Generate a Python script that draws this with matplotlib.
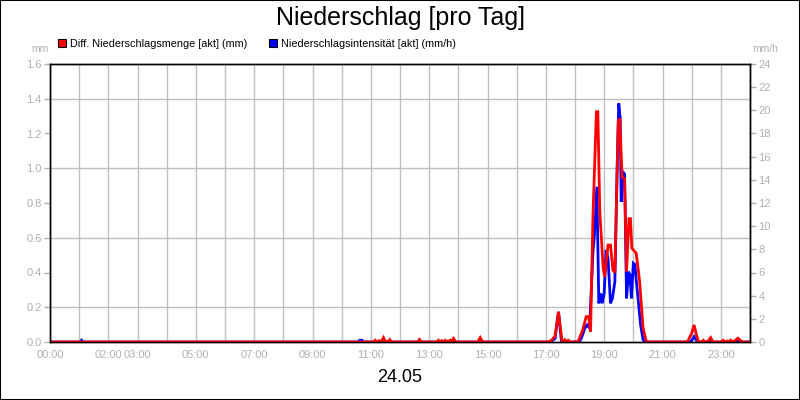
import matplotlib
matplotlib.use("Agg")
import matplotlib.pyplot as plt
from matplotlib.patches import Patch, Rectangle
from matplotlib.ticker import MultipleLocator

plt.rcParams['font.family'] = ['Liberation Sans', 'DejaVu Sans']

# ------------------------
# Data (minutes since midnight)
# ------------------------
menge_t = [0,
           666, 669, 673, 677, 681, 686, 690, 693, 696, 699, 703,
           757, 760, 764,
           796, 799, 803, 806, 810, 813, 818, 823, 826, 830, 835,
           880, 885, 890,
           1024, 1032, 1039, 1046, 1053, 1056, 1059, 1062, 1066, 1070,
           1086, 1096, 1103, 1108, 1112, 1117, 1124, 1127, 1131, 1138, 1141,
           1148, 1153, 1158, 1162, 1169, 1172, 1177, 1182, 1186, 1191, 1194,
           1197, 1206, 1213, 1220, 1227,
           1309, 1313, 1320, 1325, 1329, 1334,
           1340, 1344, 1348, 1354, 1359, 1364,
           1381, 1385, 1389, 1393, 1397, 1400, 1404, 1410, 1415, 1420, 1425,
           1440]
menge_mm = [0,
            0, 0.01, 0, 0.008, 0, 0.025, 0, 0.005, 0, 0.013, 0,
            0, 0.014, 0,
            0, 0.01, 0, 0.008, 0, 0.01, 0, 0.01, 0, 0.02, 0,
            0, 0.025, 0,
            0, 0.01, 0.035, 0.174, 0.01, 0, 0.012, 0, 0.01, 0,
            0, 0.07, 0.146, 0.146, 0.06, 0.73, 1.325, 1.325, 0.75, 0.425, 0.376,
            0.558, 0.558, 0.414, 0.40, 1.268, 1.287, 0.95, 0.94, 0.405, 0.71, 0.71,
            0.54, 0.51, 0.347, 0.08, 0,
            0, 0.01, 0.05, 0.098, 0.05, 0,
            0, 0.01, 0, 0.005, 0.025, 0,
            0, 0.01, 0, 0.006, 0, 0.01, 0, 0.01, 0.022, 0.01, 0,
            0]

intens_t = [0, 62, 65, 68,
            634, 637, 642, 645,
            682, 686, 690,
            757, 760, 764,
            826, 830, 835,
            880, 885, 890,
            1028, 1039, 1046, 1052, 1056,
            1088, 1093, 1100, 1105, 1110, 1117, 1120, 1125, 1129, 1133, 1136,
            1140, 1144, 1148, 1153, 1157, 1162, 1167, 1170, 1173, 1175, 1178,
            1182, 1186, 1190, 1193, 1196, 1200, 1203, 1207, 1215, 1220, 1224,
            1318, 1325, 1332,
            1355, 1359, 1364,
            1411, 1415, 1420,
            1440]
intens_mmh = [0, 0, 0.15, 0,
              0, 0.15, 0.15, 0,
              0, 0.25, 0,
              0, 0.15, 0,
              0, 0.2, 0,
              0, 0.25, 0,
              0, 0.3, 2.6, 0.1, 0,
              0, 0.32, 1.18, 1.47, 1.2, 7.8, 9.24, 13.4, 3.34, 4.2, 3.34,
              4.2, 7.94, 7.2, 3.34, 3.77, 5.2, 15.6, 20.6, 19.3, 12.1, 14.7,
              14.5, 3.77, 6.07, 5.8, 3.77, 6.8, 6.7, 4.9, 1.47, 0.2, 0,
              0, 0.46, 0,
              0, 0.22, 0,
              0, 0.2, 0,
              0]

hour_ticks = list(range(0, 1441, 60))
shown_hours = ["00:00", "02:00", "03:00", "05:00", "07:00", "09:00", "11:00",
               "13:00", "15:00", "17:00", "19:00", "21:00", "23:00"]

grey = "#b0b0b0"
grid_grey = "#c0c0c0"

fig = plt.figure(figsize=(8, 4), dpi=100, facecolor="white")
ax = fig.add_axes([50 / 800, 58 / 400, 700 / 800, 278 / 400])
ax2 = ax.twinx()

# blue below red
ax.set_zorder(2)
ax2.set_zorder(1)
ax.patch.set_visible(False)

ax2.plot(intens_t, intens_mmh, color="#0000ff", lw=2, solid_joinstyle="miter")
ax.plot(menge_t, menge_mm, color="#ff0000", lw=2, solid_joinstyle="miter")

ax.set_xlim(0, 1440)
ax.set_ylim(0, 1.6)
ax2.set_ylim(0, 24)

ax.yaxis.set_major_locator(MultipleLocator(0.2))
ax.yaxis.set_major_formatter(plt.FuncFormatter(lambda v, p: f"{v:.1f}"))
ax2.yaxis.set_major_locator(MultipleLocator(2))
ax2.yaxis.set_major_formatter(plt.FuncFormatter(lambda v, p: f"{v:.0f}"))

# grid lives on the lower axes so it sits under the lines
ax2.xaxis.set_visible(True)
ax2.set_xticks(hour_ticks)
ax2.tick_params(axis="x", bottom=False, top=False, labelbottom=False, labeltop=False)
ax2.yaxis.set_minor_locator(MultipleLocator(3))
ax2.tick_params(axis="y", which="minor", length=0)
ax2.grid(axis="x", which="major", color=grid_grey, lw=1)
ax2.grid(axis="y", which="minor", color=grid_grey, lw=1)

labels = []
for t in hour_ticks:
    lab = f"{t // 60:02d}:00"
    labels.append(lab if lab in shown_hours else "")
ax.set_xticks(hour_ticks)
ax.set_xticklabels(labels)
ax.tick_params(axis="x", length=0, pad=6, labelsize=8, labelcolor=grey)
ax.tick_params(axis="y", length=4, width=1, color=grey, labelsize=8, labelcolor=grey, pad=2)
ax2.tick_params(axis="y", which="major", length=4, width=1, color=grey,
                labelsize=8, labelcolor=grey, pad=2)

for a in (ax, ax2):
    for s in a.spines.values():
        s.set_color("black")
        s.set_linewidth(1)

fig.text(0.5, 1 - 18 / 400, "Niederschlag [pro Tag]", ha="center", va="center", fontsize=18)
fig.text(0.5, 1 - 378 / 400, "24.05", ha="center", va="center", fontsize=13)
fig.text(40 / 800, 1 - 49 / 400, "mm", ha="center", va="center", fontsize=7.5, color=grey)
fig.text(765 / 800, 1 - 49 / 400, "mm/h", ha="center", va="center", fontsize=7.5, color=grey)

handles = [Patch(facecolor="#ff0000", edgecolor="black", lw=0.8),
           Patch(facecolor="#0000ff", edgecolor="black", lw=0.8)]
fig.legend(handles, ["Diff. Niederschlagsmenge [akt] (mm)", "Niederschlagsintensität [akt] (mm/h)"],
           loc="center left", bbox_to_anchor=(58 / 800, 1 - 44 / 400), ncol=2, frameon=False,
           fontsize=7.8, handlelength=0.75, handleheight=0.75, handletextpad=0.35,
           columnspacing=2.0, borderpad=0, borderaxespad=0)

fig.patches.append(Rectangle((0, 0), 1, 1, transform=fig.transFigure, fill=False,
                             edgecolor="black", lw=1.5))

fig.savefig("out.png", dpi=100, facecolor="white")
